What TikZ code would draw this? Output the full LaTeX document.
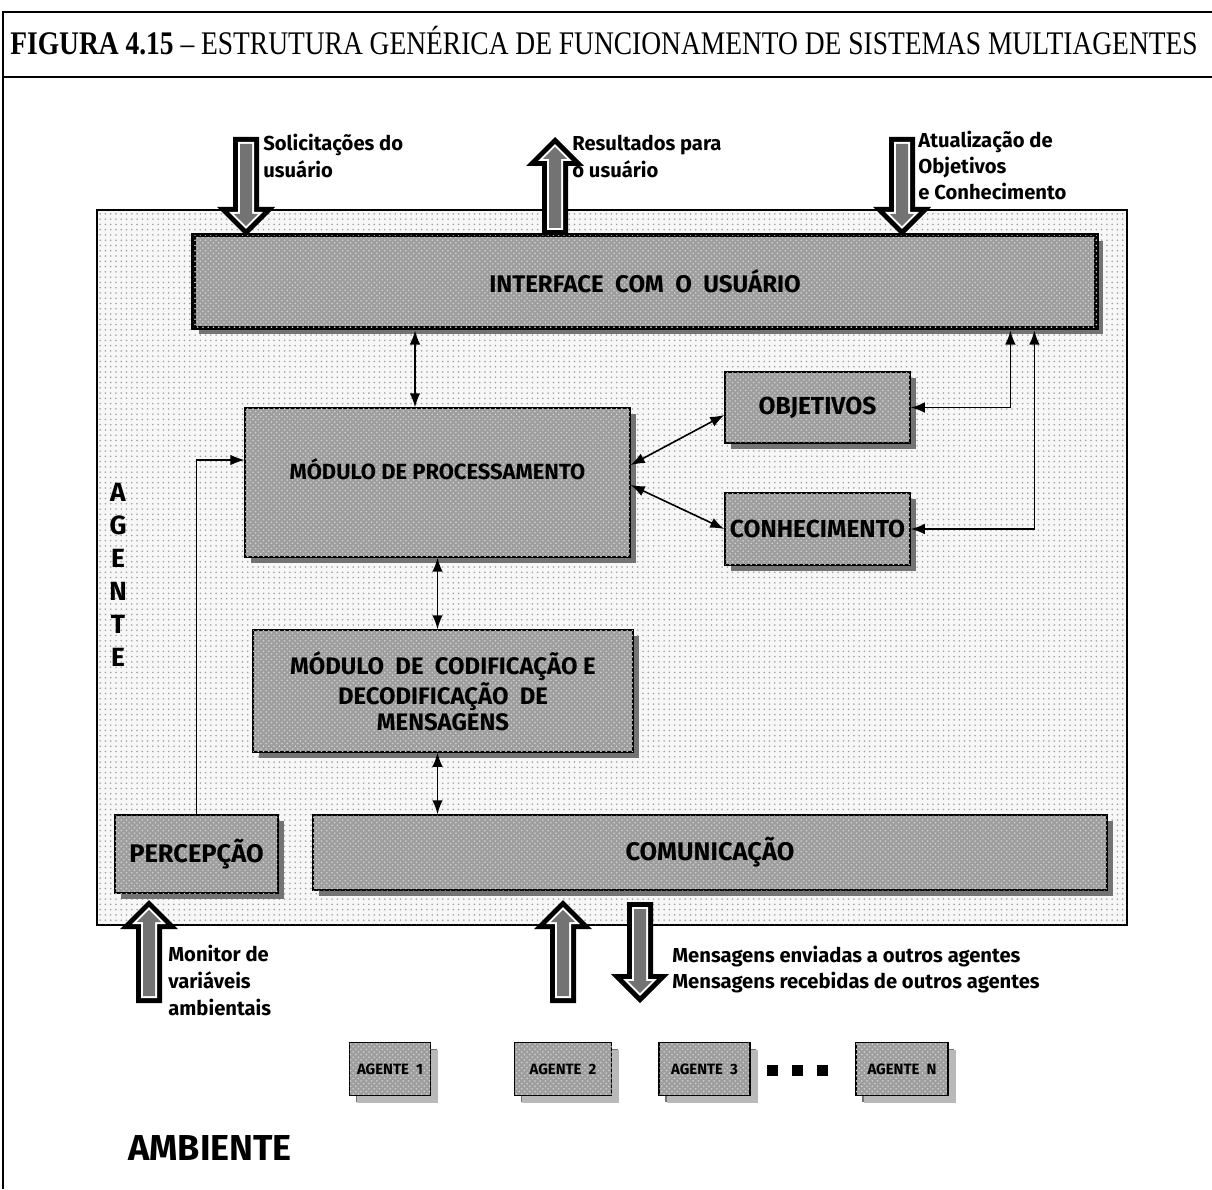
\documentclass[tikz,border=0pt]{standalone}
\usepackage{fontspec}
\setmainfont{Liberation Serif}
\newfontfamily\labfont{Fira Sans}
\usetikzlibrary{arrows.meta,patterns,calc}
\definecolor{arrfill}{gray}{0.45}
\definecolor{boxfill}{gray}{0.62}
\definecolor{shadowfill}{gray}{0.45}
\newcommand\blkarrow[3]{%
  \pgfmathsetmacro\sg{(#3>#2) ? 1 : -1}%
  \foreach \d/\c in {0/black,5/white,7/arrfill}{%
    \pgfmathsetmacro\ya{#2+\sg*\d}%
    \pgfmathsetmacro\yb{#3-\sg*29+\sg*\d}%
    \pgfmathsetmacro\yt{#3-\sg*1.41*\d}%
    \pgfmathsetmacro\xl{#1-13+\d}%
    \pgfmathsetmacro\xr{#1+13-\d}%
    \pgfmathsetmacro\hl{#1-29+2.41*\d}%
    \pgfmathsetmacro\hr{#1+29-2.41*\d}%
    \fill[\c] (\xl,\ya) -- (\xr,\ya) -- (\xr,\yb) -- (\hr,\yb) -- (#1,\yt)
      -- (\hl,\yb) -- (\xl,\yb) -- cycle;
  }%
}
\tikzset{
  lbl/.style={font=\labfont\bfseries\fontsize{11.5}{13}\selectfont, anchor=base west, inner sep=0pt},
  agentbox/.style={draw, line width=0.9pt, fill=gray!6, postaction={pattern=dots, pattern color=gray!75}},
  ibox/.style={draw, line width=0.8pt, fill=boxfill,
    preaction={fill=shadowfill, transform canvas={xshift=3.5pt, yshift=-3.5pt}},
    postaction={pattern=crosshatch dots, pattern color=gray!35},
    font=\labfont\bfseries\fontsize{14}{14}\selectfont, align=center, inner sep=0pt},
  sbox/.style={ibox, font=\labfont\bfseries\fontsize{8.5}{9}\selectfont,
    preaction={fill=gray!55, transform canvas={xshift=4.5pt, yshift=-4.5pt}}},
  conn/.style={line width=0.9pt, {Latex[length=8pt,width=6pt]}-{Latex[length=8pt,width=6pt]}},
  oneway/.style={line width=0.6pt, -{Latex[length=8pt,width=6pt]}},
}
\begin{document}
\begin{tikzpicture}[x=0.02cm, y=-0.02cm]
\useasboundingbox (0,0) rectangle (1212,1189);
% frame
\draw[line width=1.2pt] (3,1189) -- (3,12) -- (1212,12);
\draw[line width=1.2pt] (3,77) -- (1212,77);
\node[anchor=base west, inner sep=0pt] (title) at (10,55)
  {\scalebox{1}[1.2]{\resizebox{23.75cm}{!}{\textbf{FIGURA 4.15} -- ESTRUTURA GENÉRICA DE FUNCIONAMENTO DE SISTEMAS MULTIAGENTES}}};
% agent region
\node[agentbox, minimum width=20.6cm, minimum height=14.3cm] (agente) at (612,567.5) {};
% boxes
\node[ibox, line width=2.8pt, minimum width=18.08cm, minimum height=1.86cm,
  font=\labfont\bfseries\fontsize{13.7}{14}\selectfont] (iface) at (645,281.5) {INTERFACE\ \ COM\ \ O\ \ USUÁRIO};
\node[ibox, minimum width=7.7cm, minimum height=2.98cm,
  font=\labfont\bfseries\fontsize{12.5}{14}\selectfont] (mproc) at (437.5,482.5) {\raisebox{0.56cm}{MÓDULO DE PROCESSAMENTO}};
\node[ibox, minimum width=3.7cm, minimum height=1.42cm] (objet) at (817.5,407.5) {OBJETIVOS};
\node[ibox, minimum width=3.7cm, minimum height=1.44cm] (conhec) at (817.5,529) {CONHECIMENTO};
\node[ibox, minimum width=7.6cm, minimum height=2.44cm,
  font=\labfont\bfseries\fontsize{13.6}{14.8}\selectfont] (codif) at (443,691) {MÓDULO\ \ DE\ \ CODIFICAÇÃO E\\DECODIFICAÇÃO\ \ DE\\MENSAGENS};
\node[ibox, minimum width=3.26cm, minimum height=1.56cm,
  font=\labfont\bfseries\fontsize{14.5}{15}\selectfont] (percep) at (196.5,854) {PERCEPÇÃO};
\node[ibox, minimum width=15.88cm, minimum height=1.5cm,
  font=\labfont\bfseries\fontsize{14.5}{15}\selectfont] (comun) at (710,852.5) {COMUNICAÇÃO};
% AGENTE vertical
\node[font=\labfont\bfseries\fontsize{15}{18.7}\selectfont, align=center, inner sep=0pt] (agtlbl) at (118,575) {A\\G\\E\\N\\T\\E};
% connectors
\draw[conn] ([xshift=-0.45cm]mproc.north |- iface.south) -- ([xshift=-0.45cm]mproc.north);
\draw[conn] ([yshift=0.35cm]mproc.east) -- ([yshift=-0.15cm]objet.west);
\draw[conn] ([yshift=-0.05cm]mproc.east) -- (conhec.west);
\draw[conn] (objet.east) -| ([xshift=-1.78cm]iface.south east);
\draw[conn] (conhec.east) -| ([xshift=-1.3cm]iface.south east);
\draw[conn] (mproc.south) -- (codif.north -| mproc.south);
\draw[conn] (codif.south -| mproc.south) -- (comun.north -| mproc.south);
\draw[oneway] (percep.north) |- ([yshift=0.45cm]mproc.west);
% block arrows
\blkarrow{246}{137}{236}
\blkarrow{555}{235}{137}
\blkarrow{902}{137}{236}
\blkarrow{149}{1003}{900}
\blkarrow{563}{1003}{900}
\blkarrow{640}{902}{1003}
% labels
\node[lbl] (s1) at (263,151) {Solicitações do};
\node[lbl] (s2) at (263,178) {usuário};
\node[lbl] (r1) at (572,151) {Resultados para};
\node[lbl] (r2) at (572,178) {o usuário};
\node[lbl] (a1) at (918,148) {Atualização de};
\node[lbl] (a2) at (918,174) {Objetivos};
\node[lbl] (a3) at (918,200) {e Conhecimento};
\node[lbl] (m1) at (168,961) {Monitor de};
\node[lbl] (m2) at (168,988) {variáveis};
\node[lbl] (m3) at (168,1015) {ambientais};
\node[lbl] (g1) at (672,962) {Mensagens enviadas a outros agentes};
\node[lbl] (g2) at (672,988) {Mensagens recebidas de outros agentes};
% other agents
\node[sbox, minimum width=1.62cm, minimum height=1.06cm] (ag1) at (390,1069) {AGENTE\ \ 1};
\node[sbox, minimum width=1.94cm, minimum height=1.06cm] (ag2) at (563,1069) {AGENTE\ \ 2};
\node[sbox, minimum width=1.82cm, minimum height=1.06cm] (ag3) at (704.5,1069) {AGENTE\ \ 3};
\node[sbox, minimum width=1.84cm, minimum height=1.06cm] (agN) at (902,1069) {AGENTE\ \ N};
\fill (767,1065) rectangle +(11,11);
\fill (792,1065) rectangle +(11,11);
\fill (817,1065) rectangle +(11,11);
\node[font=\labfont\bfseries\fontsize{20.5}{22}\selectfont, anchor=base west, inner sep=0pt] (amb) at (128,1160) {AMBIENTE};
\end{tikzpicture}
\end{document}
